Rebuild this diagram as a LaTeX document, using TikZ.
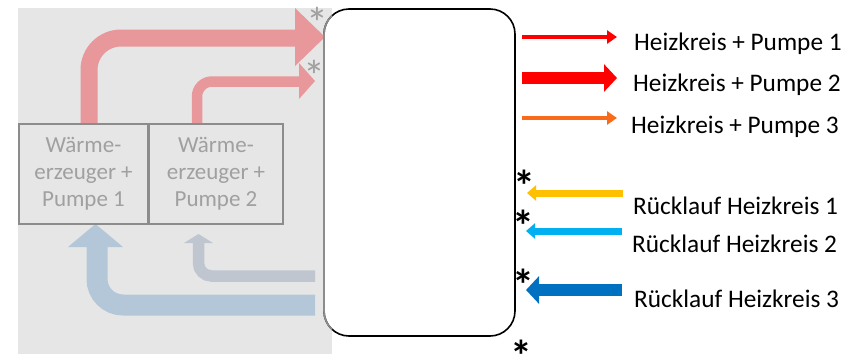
\documentclass[tikz,border=0pt]{standalone}
\usepackage{fontspec}
\setmainfont{Carlito}
\usetikzlibrary{arrows.meta}
\definecolor{bggray}{HTML}{E6E6E6}
\definecolor{fred}{HTML}{E8979A}
\definecolor{fblue}{HTML}{B4C7D9}
\definecolor{fgb}{HTML}{BFC6D0}
\definecolor{boxline}{HTML}{8C8C8C}
\definecolor{boxtext}{HTML}{A0A0A0}
\definecolor{hred}{HTML}{FF0000}
\definecolor{horange}{HTML}{F96B1A}
\definecolor{ryellow}{HTML}{FFC000}
\definecolor{rlblue}{HTML}{00B0F0}
\definecolor{rdblue}{HTML}{0070C0}
\tikzset{
  genbox/.style={draw=boxline, line width=1.2pt, fill=bggray, minimum height=100pt,
    align=center, text=boxtext, font=\fontsize{23}{27}\selectfont, inner sep=0pt, outer sep=0pt},
  tank/.style={draw=black, line width=1.6pt, fill=white, rounded corners=25pt,
    minimum width=191pt, minimum height=327pt, outer sep=0pt, inner sep=0pt},
  lbl/.style={anchor=base west, inner sep=0pt, font=\fontsize{25.3}{30}\selectfont},
  bstar/.style={anchor=base, inner sep=0pt, font=\fontsize{44}{50}\selectfont\bfseries},
  gstar/.style={anchor=base, inner sep=0pt, text=boxtext, font=\fontsize{44}{50}\selectfont},
  thinarr/.style={line width=4.5pt, -{Triangle[length=10pt,width=13pt]}},
  midarr/.style={line width=7pt, -{Triangle[length=9pt,width=15pt]}},
  thickarr/.style={line width=12pt, -{Triangle[length=13pt,width=27pt]}},
}
\begin{document}
\begin{tikzpicture}[x=1pt,y=-1pt]
\useasboundingbox (0,0) rectangle (852,354);
\fill[bggray] (18,8) rectangle (332,354);

% faded flow arrows on the left
\draw[fred, line width=17pt, rounded corners=32pt] (89,124) -- (89,38) -- (296,38);
\fill[fred] (295,8) -- (325,37) -- (295,66) -- cycle;
\draw[fred, line width=10.5pt, rounded corners=15pt] (197,124) -- (197,81.5) -- (300,81.5);
\fill[fred] (299,63) -- (315,81) -- (299,99) -- cycle;
\draw[fblue, line width=21pt, rounded corners=26pt] (315,305) -- (97,305) -- (97,246);
\fill[fblue] (68,247) -- (95.5,224) -- (123,247) -- cycle;
\draw[fgb, line width=11.5pt, rounded corners=13pt] (315,276) -- (198.5,276) -- (198.5,242);
\fill[fgb] (184,243) -- (198.5,234) -- (213,243) -- cycle;

% generator boxes
\node[genbox, minimum width=129pt] (b1) at (83.5,174) {Wärme-\\erzeuger +\\Pumpe 1};
\node[genbox, minimum width=134pt] (b2) at (216,174) {Wärme-\\erzeuger +\\Pumpe 2};

% tank
\node[tank] (tank) at (419.5,172.5) {};
\begin{scope}
  \clip (300,0) rectangle (332,354);
  \draw[boxline, line width=1.6pt, rounded corners=25pt] (tank.south west) rectangle (tank.north east);
\end{scope}

% gray asterisks
\node[gstar] (gs1) at (317,38) {*};
\node[gstar] (gs2) at (314,91) {*};

% outgoing arrows
\coordinate (h1s) at (522,37);  \coordinate (h1e) at (617,37);
\coordinate (h2s) at (522,78);  \coordinate (h2e) at (617,78);
\coordinate (h3s) at (522,118); \coordinate (h3e) at (617,118);
\draw[hred, thinarr] (h1s) -- (h1e);
\draw[hred, thickarr] (h2s) -- (h2e);
\draw[horange, thinarr] (h3s) -- (h3e);

\node[lbl] (l1) at (634,50.7) {Heizkreis + Pumpe 1};
\node[lbl] (l2) at (633,91.7) {Heizkreis + Pumpe 2};
\node[lbl] (l3) at (631,133) {Heizkreis + Pumpe 3};

% return arrows
\coordinate (r1s) at (623,193); \coordinate (r1e) at (527,193);
\coordinate (r2s) at (622,231); \coordinate (r2e) at (526,231);
\coordinate (r3s) at (622,290); \coordinate (r3e) at (526,290);
\draw[ryellow, midarr] (r1s) -- (r1e);
\draw[rlblue, midarr] (r2s) -- (r2e);
\draw[rdblue, thickarr] (r3s) -- (r3e);

\node[lbl] (m1) at (633,214) {Rücklauf Heizkreis 1};
\node[lbl] (m2) at (632,252.7) {Rücklauf Heizkreis 2};
\node[lbl] (m3) at (634,307.7) {Rücklauf Heizkreis 3};

% black asterisks
\node[bstar] (s1) at (524,201) {*};
\node[bstar] (s2) at (523,241) {*};
\node[bstar] (s3) at (523,300) {*};
\node[bstar] (s4) at (521,371) {*};
\end{tikzpicture}
\end{document}
